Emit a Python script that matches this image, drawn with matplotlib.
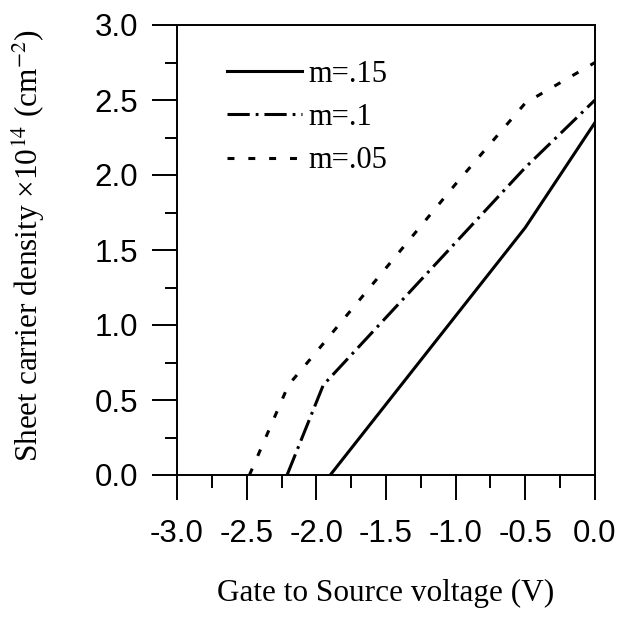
""" Sheet carrier density vs gate-source voltage """
import matplotlib
matplotlib.use("Agg")
import matplotlib.pyplot as plt
from matplotlib.ticker import MultipleLocator, FormatStrFormatter

# Daten
vgs_15 = [-1.90, -0.50, 0.0]
ns_15 = [0.0, 1.65, 2.35]

vgs_10 = [-2.21, -1.95, -1.50, -1.00, -0.50, 0.0]
ns_10 = [0.0, 0.60, 1.05, 1.55, 2.05, 2.50]

vgs_05 = [-2.48, -2.20, -2.00, -1.50, -1.00, -0.50, 0.0]
ns_05 = [0.0, 0.60, 0.82, 1.38, 1.94, 2.48, 2.75]

labels = ["m=.15", "m=.1", "m=.05"]

plt.rcParams["lines.scale_dashes"] = False
plt.rcParams["mathtext.fontset"] = "stix"

fig = plt.figure(figsize=(6.22, 6.21), dpi=100)
ax = fig.add_axes([177 / 622, 1 - 475 / 621, 418 / 622, 450 / 621])

lw = 2.2
ax.plot(vgs_15, ns_15, color="black", lw=lw, linestyle="-", label=labels[0])
ax.plot(vgs_10, ns_10, color="black", lw=lw, linestyle=(0, (16, 4.3, 2, 4.3)), label=labels[1])
ax.plot(vgs_05, ns_05, color="black", lw=lw, linestyle=(0, (5, 10)), label=labels[2])

ax.set_xlim(-3.0, 0.0)
ax.set_ylim(0.0, 3.0)

# Achsen / Ticks
ax.xaxis.set_major_locator(MultipleLocator(0.5))
ax.xaxis.set_minor_locator(MultipleLocator(0.25))
ax.yaxis.set_major_locator(MultipleLocator(0.5))
ax.yaxis.set_minor_locator(MultipleLocator(0.25))
ax.xaxis.set_major_formatter(FormatStrFormatter("%.1f"))
ax.yaxis.set_major_formatter(FormatStrFormatter("%.1f"))
ax.tick_params(which="major", direction="out", length=18, width=1.4)
ax.tick_params(which="minor", direction="out", length=9, width=1.4)
ax.tick_params(axis="x", which="major", pad=14)
ax.tick_params(axis="y", which="major", pad=10)
for lab in ax.get_xticklabels() + ax.get_yticklabels():
    lab.set_fontfamily("Liberation Sans")
    lab.set_fontsize(22.5)
for s in ax.spines.values():
    s.set_linewidth(1.4)

ax.set_xlabel("Gate to Source voltage (V)", fontfamily="Liberation Serif", fontsize=22.5)
ax.xaxis.set_label_coords(0.5, -0.232)
ax.set_ylabel("Sheet carrier density \u00d710$^{14}$ (cm$^{-2}$)",
              fontfamily="Liberation Serif", fontsize=22.5)
ax.yaxis.set_label_coords(-0.31, 0.509)

leg = ax.legend(loc="upper left", bbox_to_anchor=(0.12, 0.922), frameon=False,
                prop={"family": "Liberation Serif", "size": 22},
                handlelength=2.45, handletextpad=0.2, labelspacing=0.46,
                borderpad=0, borderaxespad=0)

fig.savefig("out.png", dpi=100)
